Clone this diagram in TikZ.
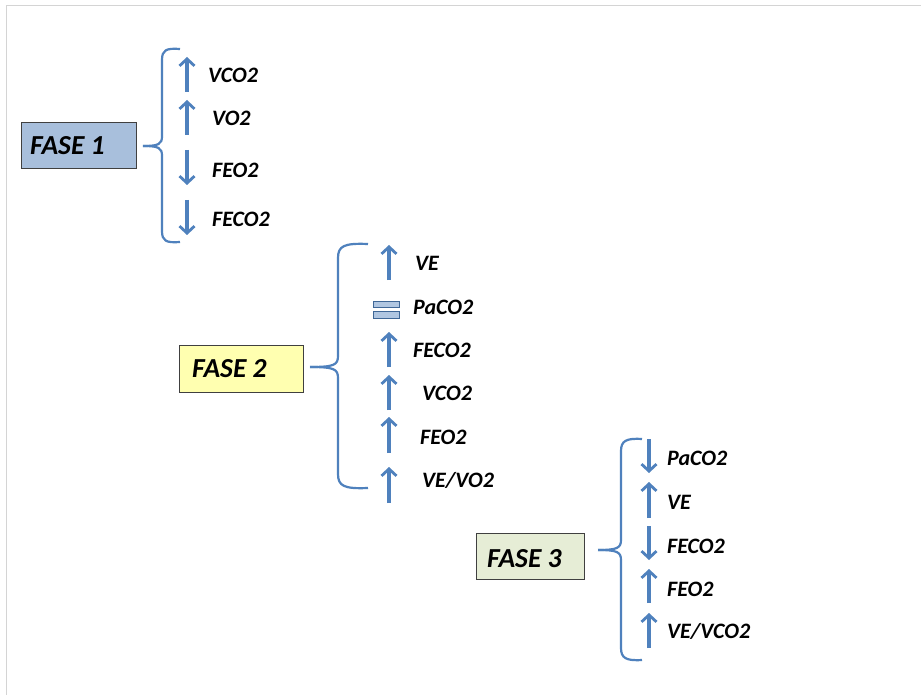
\documentclass[tikz,border=0pt]{standalone}
\usepackage{fontspec}
\setmainfont{Carlito}
\usetikzlibrary{arrows.meta}
\definecolor{arrblue}{HTML}{4F81BD}
\definecolor{boxone}{HTML}{A8BFDC}
\definecolor{boxtwo}{HTML}{FFFFB0}
\definecolor{boxthree}{HTML}{E6EDD6}
\definecolor{framegray}{HTML}{D4D4D4}
\tikzset{
  phasebox/.style={draw=black!75, line width=0.9pt, minimum height=46pt, inner sep=0pt},
  phasetext/.style={font=\fontsize{27.5}{30}\selectfont\bfseries\itshape, anchor=base west, inner sep=0pt},
  lbl/.style={font=\fontsize{22}{24}\selectfont\bfseries\itshape, anchor=base west, inner sep=0pt},
  ar/.style={draw=arrblue, line width=3.2pt, -{Straight Barb[length=7pt,width=15pt,line width=2.8pt]}},
  bracepath/.style={draw=arrblue, line width=2.2pt},
  eqbar/.style={draw=arrblue!80!black, line width=0.8pt, fill=arrblue!45}
}
\begin{document}
\begin{tikzpicture}[x=1pt,y=-1pt]
\useasboundingbox (0,0) rectangle (921,695);
\fill[white] (0,0) rectangle (921,695);
% frame
\draw[framegray, line width=1pt] (6,695) -- (6,6) -- (921,6);

% ---------- FASE 1 ----------
\node[phasebox, fill=boxone, minimum width=115pt, anchor=north west] (b1) at (21,122) {};
\node[phasetext] (t1) at (30,155) {FASE 1};
\draw[bracepath] (180,49) .. controls (166,48) and (162,50) .. (162,60) -- (162,136)
  .. controls (162,144) and (159,146) .. (143,146);
\draw[bracepath] (180,242) .. controls (166,243) and (162,241) .. (162,231) -- (162,156)
  .. controls (162,148) and (159,146) .. (143,146);
\coordinate (a1s) at (187,92);  \coordinate (a1e) at (187,57);
\coordinate (a2s) at (187,135); \coordinate (a2e) at (187,100);
\coordinate (a3s) at (187,150); \coordinate (a3e) at (187,185);
\coordinate (a4s) at (187,200); \coordinate (a4e) at (187,235);
\draw[ar] (a1s) -- (a1e);
\draw[ar] (a2s) -- (a2e);
\draw[ar] (a3s) -- (a3e);
\draw[ar] (a4s) -- (a4e);
\node[lbl] (l11) at (208,83) {VCO2};
\node[lbl] (l12) at (212,126) {VO2};
\node[lbl] (l13) at (212,178) {FEO2};
\node[lbl] (l14) at (212,227) {FECO2};

% ---------- FASE 2 ----------
\node[phasebox, fill=boxtwo, minimum width=124pt, minimum height=47pt, anchor=north west] (b2) at (179,345) {};
\node[phasetext] (t2) at (192,377) {FASE 2};
\draw[bracepath] (368,244) .. controls (344,243) and (338,246) .. (338,258) -- (338,356)
  .. controls (338,365) and (334,367) .. (310,367);
\draw[bracepath] (368,488) .. controls (344,489) and (338,486) .. (338,474) -- (338,378)
  .. controls (338,369) and (334,367) .. (310,367);
\coordinate (c1s) at (389,280); \coordinate (c1e) at (389,245);
\coordinate (c3s) at (389,367); \coordinate (c3e) at (389,332);
\coordinate (c4s) at (389,410); \coordinate (c4e) at (389,375);
\coordinate (c5s) at (389,453); \coordinate (c5e) at (389,417);
\coordinate (c6s) at (389,503); \coordinate (c6e) at (389,467);
\draw[ar] (c1s) -- (c1e);
\draw[ar] (c3s) -- (c3e);
\draw[ar] (c4s) -- (c4e);
\draw[ar] (c5s) -- (c5e);
\draw[ar] (c6s) -- (c6e);
\draw[eqbar] (373,301) rectangle (399,307.5);
\draw[eqbar] (373,311) rectangle (399,318);
\node[lbl] (l21) at (415,270) {VE};
\node[lbl] (l22) at (413,314) {PaCO2};
\node[lbl] (l23) at (413,357) {FECO2};
\node[lbl] (l24) at (422,400) {VCO2};
\node[lbl] (l25) at (420,444) {FEO2};
\node[lbl] (l26) at (422,487) {VE/VO2};

% ---------- FASE 3 ----------
\node[phasebox, fill=boxthree, minimum width=108pt, anchor=north west] (b3) at (476,533) {};
\node[phasetext] (t3) at (487,567) {FASE 3};
\draw[bracepath] (642,439) .. controls (626,438) and (621,441) .. (621,451) -- (621,540)
  .. controls (621,548) and (617,550) .. (598,550);
\draw[bracepath] (642,660) .. controls (626,661) and (621,658) .. (621,648) -- (621,560)
  .. controls (621,552) and (617,550) .. (598,550);
\coordinate (d1s) at (649,439); \coordinate (d1e) at (649,473);
\coordinate (d2s) at (649,518); \coordinate (d2e) at (649,482);
\coordinate (d3s) at (649,526); \coordinate (d3e) at (649,560);
\coordinate (d4s) at (649,603); \coordinate (d4e) at (649,569);
\coordinate (d5s) at (649,648); \coordinate (d5e) at (649,613);
\draw[ar] (d1s) -- (d1e);
\draw[ar] (d2s) -- (d2e);
\draw[ar] (d3s) -- (d3e);
\draw[ar] (d4s) -- (d4e);
\draw[ar] (d5s) -- (d5e);
\node[lbl] (l31) at (667,465) {PaCO2};
\node[lbl] (l32) at (667,509) {VE};
\node[lbl] (l33) at (667,553) {FECO2};
\node[lbl] (l34) at (667,596) {FEO2};
\node[lbl] (l35) at (667,638) {VE/VCO2};
\end{tikzpicture}
\end{document}
